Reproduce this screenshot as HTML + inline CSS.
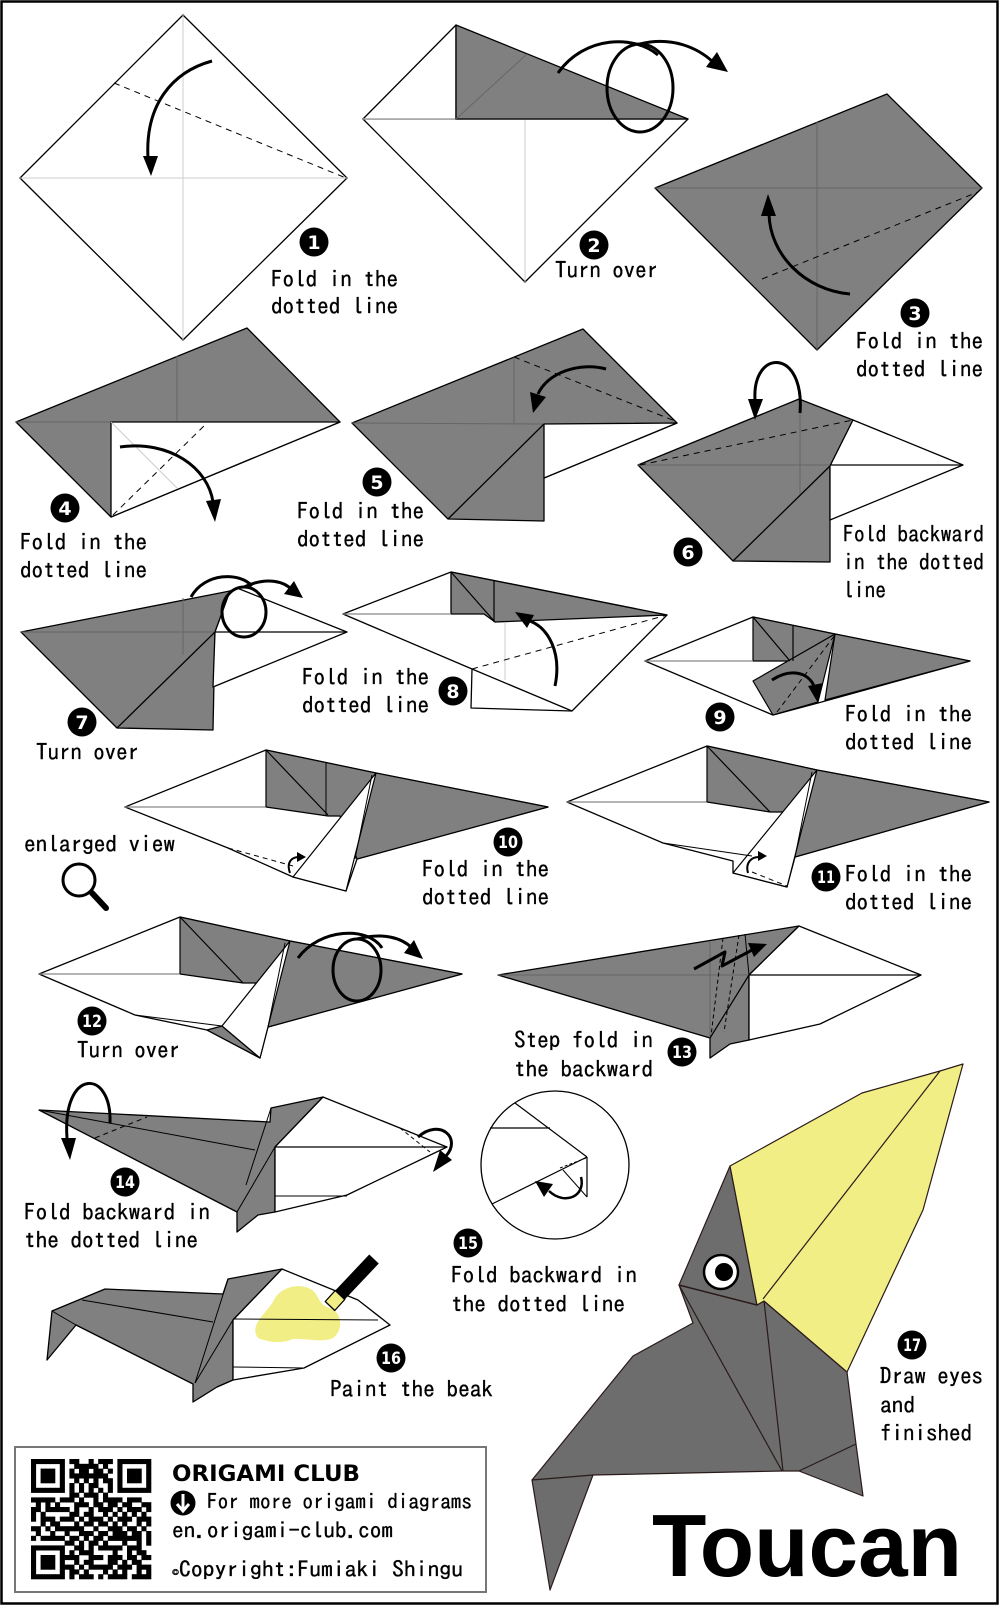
<!DOCTYPE html>
<html><head><meta charset="utf-8"><style>
html,body{margin:0;padding:0;background:#fff;}
svg{display:block;}
.t{font-family:"IPAGothic","Liberation Mono",monospace;font-size:23px;fill:#000;stroke:#000;stroke-width:0.35px;}
.n{font-family:"DejaVu Sans","Liberation Sans",sans-serif;font-weight:bold;fill:#fff;}
</style></head><body>
<svg width="1000" height="1606" viewBox="0 0 1000 1606" xmlns="http://www.w3.org/2000/svg">
<rect x="0" y="0" width="1000" height="1606" fill="#fff"/>
<rect x="1.5" y="1.5" width="996" height="1602" fill="none" stroke="#000" stroke-width="2.5"/>

<!-- STEP 1 -->
<g stroke-linejoin="round">
<polygon points="183,15 347,178 183,340 20,178" fill="#fff" stroke="#000" stroke-width="1.3"/>
<line x1="20" y1="178" x2="347" y2="178" stroke="#ccc"/>
<line x1="183" y1="15" x2="183" y2="340" stroke="#ccc"/>
<line x1="114" y1="83" x2="346" y2="178" stroke="#000" stroke-dasharray="6,5"/>
<path d="M212,61 C172,72 145,105 148,158" fill="none" stroke="#000" stroke-width="3"/>
<polygon points="143,156 158,156 151,176" fill="#000"/>
</g>
<circle cx="314" cy="242" r="14.5" fill="#000"/><text class="n" x="314" y="249" font-size="19" text-anchor="middle">1</text>
<text class="t" x="271" y="287" textLength="127" lengthAdjust="spacingAndGlyphs">Fold in the</text>
<text class="t" x="271" y="314" textLength="127" lengthAdjust="spacingAndGlyphs">dotted line</text>

<!-- STEP 2 -->
<g stroke-linejoin="round">
<polygon points="363,119 525,282 688,119" fill="#fff" stroke="#000" stroke-width="1.3"/>
<polygon points="363,119 456,25 456,119" fill="#fff" stroke="#000" stroke-width="1.3"/>
<line x1="363" y1="119" x2="456" y2="119" stroke="#bbb" stroke-width="1.2"/>
<line x1="525" y1="119" x2="525" y2="282" stroke="#ccc"/>
<polygon points="456,25 688,119 456,119" fill="#808080" stroke="#000" stroke-width="1.3"/>
<line x1="456" y1="119" x2="527" y2="54" stroke="#666"/>
<path d="M558,73 C585,35 635,35 658,55" fill="none" stroke="#000" stroke-width="3"/>
<ellipse cx="640" cy="88" rx="33" ry="44" fill="none" stroke="#000" stroke-width="3"/>
<path d="M640,44 C672,36 698,48 713,62" fill="none" stroke="#000" stroke-width="3"/>
<polygon points="728,72 706,67 717,52" fill="#000"/>
</g>
<circle cx="594" cy="245" r="14.5" fill="#000"/><text class="n" x="594" y="252" font-size="19" text-anchor="middle">2</text>
<text class="t" x="555" y="278" textLength="103" lengthAdjust="spacingAndGlyphs">Turn over</text>

<!-- STEP 3 -->
<g stroke-linejoin="round">
<polygon points="655,188 887,94 982,188 817,350" fill="#808080" stroke="#000" stroke-width="1.3"/>
<line x1="817" y1="122" x2="817" y2="350" stroke="#666"/>
<line x1="655" y1="188" x2="982" y2="188" stroke="#666"/>
<line x1="762" y1="279" x2="978" y2="192" stroke="#000" stroke-dasharray="6,5"/>
<path d="M850,294 C805,290 770,255 769,214" fill="none" stroke="#000" stroke-width="3"/>
<polygon points="768,194 761,216 776,216" fill="#000"/>
</g>
<circle cx="915" cy="313" r="14.5" fill="#000"/><text class="n" x="915" y="320" font-size="19" text-anchor="middle">3</text>
<text class="t" x="856" y="349" textLength="127" lengthAdjust="spacingAndGlyphs">Fold in the</text>
<text class="t" x="856" y="377" textLength="127" lengthAdjust="spacingAndGlyphs">dotted line</text>

<!-- STEP 4 -->
<g stroke-linejoin="round">
<polygon points="16,422 247,328 340,422 111,517" fill="#808080" stroke="#000" stroke-width="1.3"/>
<line x1="177" y1="356" x2="177" y2="422" stroke="#666"/>
<line x1="16" y1="422" x2="111" y2="422" stroke="#666"/>
<polygon points="111,422 340,422 111,517" fill="#fff" stroke="#000" stroke-width="1.3"/>
<line x1="111" y1="422" x2="177" y2="488" stroke="#ccc"/>
<line x1="113" y1="515" x2="207" y2="423" stroke="#000" stroke-dasharray="6,5"/>
<path d="M120,447 C170,440 208,468 213,502" fill="none" stroke="#000" stroke-width="3"/>
<polygon points="215,522 206,501 221,499" fill="#000"/>
</g>
<circle cx="65" cy="508" r="14.5" fill="#000"/><text class="n" x="65" y="515" font-size="19" text-anchor="middle">4</text>
<text class="t" x="20" y="550" textLength="127" lengthAdjust="spacingAndGlyphs">Fold in the</text>
<text class="t" x="20" y="578" textLength="127" lengthAdjust="spacingAndGlyphs">dotted line</text>

<!-- STEP 5 -->
<g stroke-linejoin="round">
<polygon points="352,423 583,329 677,423 544,478 544,521 448,519" fill="#808080" stroke="#000" stroke-width="1.3"/>
<polygon points="544,424 677,423 544,478" fill="#fff" stroke="#000" stroke-width="1.3"/>
<line x1="352" y1="423" x2="544" y2="424" stroke="#666"/>
<line x1="514" y1="357" x2="514" y2="423" stroke="#666"/>
<line x1="448" y1="519" x2="544" y2="424" stroke="#000" stroke-width="1.3"/>
<line x1="514" y1="357" x2="675" y2="421" stroke="#000" stroke-dasharray="6,5"/>
<path d="M606,369 C580,362 548,372 538,394" fill="none" stroke="#000" stroke-width="3"/>
<polygon points="533,413 530,392 546,397" fill="#000"/>
</g>
<circle cx="377" cy="482" r="14.5" fill="#000"/><text class="n" x="377" y="489" font-size="19" text-anchor="middle">5</text>
<text class="t" x="297" y="519" textLength="127" lengthAdjust="spacingAndGlyphs">Fold in the</text>
<text class="t" x="297" y="547" textLength="127" lengthAdjust="spacingAndGlyphs">dotted line</text>

<!-- STEP 6 -->
<g stroke-linejoin="round">
<polygon points="638,465 799,399 853,420 830,466 830,562 733,561" fill="#808080" stroke="#000" stroke-width="1.3"/>
<polygon points="853,420 963,465 830,520 830,466" fill="#fff" stroke="#000" stroke-width="1.3"/>
<line x1="830" y1="465" x2="963" y2="465" stroke="#000" stroke-width="1.2"/>
<line x1="638" y1="465" x2="830" y2="465" stroke="#666"/>
<line x1="800" y1="400" x2="800" y2="495" stroke="#666"/>
<line x1="733" y1="561" x2="830" y2="466" stroke="#000" stroke-width="1.3"/>
<line x1="640" y1="465" x2="853" y2="420" stroke="#000" stroke-dasharray="6,5"/>
<path d="M800,413 C805,348 752,348 755,400" fill="none" stroke="#000" stroke-width="3"/>
<polygon points="755,420 748,399 763,399" fill="#000"/>
</g>
<circle cx="688" cy="552" r="14.5" fill="#000"/><text class="n" x="688" y="559" font-size="19" text-anchor="middle">6</text>
<text class="t" x="843" y="542" textLength="141" lengthAdjust="spacingAndGlyphs">Fold backward</text>
<text class="t" x="843" y="570" textLength="141" lengthAdjust="spacingAndGlyphs">in the dotted</text>
<text class="t" x="843" y="598" textLength="43" lengthAdjust="spacingAndGlyphs">line</text>

<!-- STEP 7 -->
<g stroke-linejoin="round">
<polygon points="21,632 230,591 215,632 213,730 117,728" fill="#808080" stroke="#000" stroke-width="1.3"/>
<polygon points="230,591 237,588 347,632 213,687 215,632" fill="#fff" stroke="#000" stroke-width="1.3"/>
<line x1="215" y1="632" x2="347" y2="632" stroke="#000" stroke-width="1.2"/>
<line x1="21" y1="632" x2="215" y2="632" stroke="#666"/>
<line x1="183" y1="598" x2="183" y2="655" stroke="#666"/>
<line x1="117" y1="728" x2="215" y2="632" stroke="#000" stroke-width="1.3"/>
<path d="M191,597 C205,572 240,572 252,586" fill="none" stroke="#000" stroke-width="3"/>
<ellipse cx="244" cy="612" rx="22" ry="25" fill="none" stroke="#000" stroke-width="3"/>
<path d="M244,587 C268,576 285,582 292,590" fill="none" stroke="#000" stroke-width="3"/>
<polygon points="303,598 284,594 294,581" fill="#000"/>
</g>
<circle cx="82" cy="722" r="14.5" fill="#000"/><text class="n" x="82" y="729" font-size="19" text-anchor="middle">7</text>
<text class="t" x="36" y="760" textLength="103" lengthAdjust="spacingAndGlyphs">Turn over</text>

<!-- STEP 8 -->
<g stroke-linejoin="round">
<polygon points="343,614 451,572 667,615 572,711 471,708 472,669" fill="#fff" stroke="#000" stroke-width="1.3"/>
<line x1="472" y1="669" x2="572" y2="711" stroke="#000" stroke-width="1.3"/>
<polygon points="451,572 667,615 495,622 484,614 451,614" fill="#808080" stroke="#000" stroke-width="1.3"/>
<line x1="343" y1="614" x2="451" y2="614" stroke="#888" stroke-width="1.2"/>
<line x1="451" y1="572" x2="495" y2="622" stroke="#000" stroke-width="1.2"/>
<line x1="494" y1="580" x2="494" y2="622" stroke="#000" stroke-width="1.2"/>
<line x1="505" y1="622" x2="505" y2="680" stroke="#ccc"/>
<line x1="472" y1="669" x2="667" y2="615" stroke="#000" stroke-dasharray="6,5"/>
<path d="M555,686 C562,652 548,628 530,621" fill="none" stroke="#000" stroke-width="3"/>
<polygon points="515,612 534,615 527,628" fill="#000"/>
</g>
<circle cx="453" cy="691" r="14.5" fill="#000"/><text class="n" x="453" y="698" font-size="19" text-anchor="middle">8</text>
<text class="t" x="302" y="685" textLength="127" lengthAdjust="spacingAndGlyphs">Fold in the</text>
<text class="t" x="302" y="713" textLength="127" lengthAdjust="spacingAndGlyphs">dotted line</text>

<!-- STEP 9 -->
<g stroke-linejoin="round">
<polygon points="645,661 753,617 835,634 970,661 818,703 773,715" fill="#fff" stroke="#000" stroke-width="1.3"/>
<polygon points="753,617 835,634 790,661 753,661" fill="#808080" stroke="#000" stroke-width="1.2"/>
<polygon points="835,634 970,661 825,700" fill="#808080" stroke="#000" stroke-width="1.2"/>
<polygon points="753,681 835,634 818,702 773,715" fill="#808080" stroke="#000" stroke-width="1.2"/>
<line x1="645" y1="661" x2="753" y2="661" stroke="#888" stroke-width="1.2"/>
<line x1="753" y1="617" x2="790" y2="661" stroke="#000" stroke-width="1.2"/>
<line x1="793" y1="626" x2="793" y2="661" stroke="#000" stroke-width="1.2"/>
<line x1="777" y1="712" x2="835" y2="635" stroke="#000" stroke-dasharray="5,4"/>
<path d="M772,680 C790,668 808,672 814,686" fill="none" stroke="#000" stroke-width="3"/>
<polygon points="818,703 808,686 823,683" fill="#000"/>
</g>
<circle cx="720" cy="717" r="14.5" fill="#000"/><text class="n" x="720" y="724" font-size="19" text-anchor="middle">9</text>
<text class="t" x="845" y="722" textLength="127" lengthAdjust="spacingAndGlyphs">Fold in the</text>
<text class="t" x="845" y="750" textLength="127" lengthAdjust="spacingAndGlyphs">dotted line</text>

<!-- STEP 10 -->
<g stroke-linejoin="round">
<polygon points="125,807 266,750 376,773 548,807 357,859 346,891 293,877 228,848" fill="#fff" stroke="#000" stroke-width="1.3"/>
<polygon points="266,750 376,773 548,807 357,859 340,816 328,816 266,807" fill="#808080" stroke="#000" stroke-width="1.2"/>
<polygon points="376,773 293,877 346,891" fill="#fff" stroke="#000" stroke-width="1.2"/>
<line x1="125" y1="807" x2="266" y2="807" stroke="#888" stroke-width="1.2"/>
<line x1="266" y1="750" x2="266" y2="807" stroke="#000"/>
<line x1="266" y1="750" x2="328" y2="815" stroke="#000" stroke-width="1.2"/>
<line x1="326" y1="763" x2="326" y2="815" stroke="#000"/>
<line x1="372" y1="775" x2="355" y2="859" stroke="#000"/>
<line x1="228" y1="848" x2="293" y2="866" stroke="#000" stroke-dasharray="5,4"/>
<path d="M290,873 C286,862 292,857 299,857" fill="none" stroke="#000" stroke-width="2"/>
<polygon points="306,857 297,852 297,862" fill="#000"/>
</g>
<circle cx="508" cy="842" r="14.5" fill="#000"/><text class="n" x="508" y="848" font-size="17" text-anchor="middle" textLength="20" lengthAdjust="spacingAndGlyphs">10</text>
<text class="t" x="422" y="877" textLength="127" lengthAdjust="spacingAndGlyphs">Fold in the</text>
<text class="t" x="422" y="905" textLength="127" lengthAdjust="spacingAndGlyphs">dotted line</text>
<text class="t" x="24" y="852" textLength="151" lengthAdjust="spacingAndGlyphs">enlarged view</text>
<circle cx="79" cy="880" r="16" fill="none" stroke="#000" stroke-width="3"/>
<line x1="92" y1="893" x2="106" y2="908" stroke="#000" stroke-width="6" stroke-linecap="round"/>

<!-- STEP 11 -->
<g stroke-linejoin="round">
<polygon points="567,802 707,746 817,770 989,802 795,857 787,887 733,873 733,861 663,843" fill="#fff" stroke="#000" stroke-width="1.3"/>
<polygon points="707,746 817,770 989,802 795,857 783,812 770,812 707,802" fill="#808080" stroke="#000" stroke-width="1.2"/>
<polygon points="817,770 733,873 787,887" fill="#fff" stroke="#000" stroke-width="1.2"/>
<line x1="567" y1="802" x2="707" y2="802" stroke="#888" stroke-width="1.2"/>
<line x1="707" y1="746" x2="707" y2="802" stroke="#000"/>
<line x1="707" y1="746" x2="770" y2="812" stroke="#000" stroke-width="1.2"/>
<line x1="663" y1="843" x2="752" y2="856" stroke="#000"/>
<line x1="812" y1="772" x2="795" y2="857" stroke="#000"/>
<line x1="752" y1="872" x2="787" y2="886" stroke="#000" stroke-dasharray="5,4"/>
<path d="M748,873 C745,862 752,857 759,857" fill="none" stroke="#000" stroke-width="2"/>
<polygon points="767,856 758,851 758,861" fill="#000"/>
</g>
<circle cx="826" cy="877" r="14.5" fill="#000"/><text class="n" x="826" y="883" font-size="17" text-anchor="middle" textLength="18" lengthAdjust="spacingAndGlyphs">11</text>
<text class="t" x="845" y="882" textLength="127" lengthAdjust="spacingAndGlyphs">Fold in the</text>
<text class="t" x="845" y="910" textLength="127" lengthAdjust="spacingAndGlyphs">dotted line</text>

<!-- STEP 12 -->
<g stroke-linejoin="round">
<polygon points="39,974 180,917 290,941 462,974 268,1027 260,1058 207,1030 135,1015" fill="#fff" stroke="#000" stroke-width="1.3"/>
<polygon points="180,917 290,941 462,974 268,1027 258,983 243,983 180,974" fill="#808080" stroke="#000" stroke-width="1.2"/>
<polygon points="207,1030 222,1026 260,1058" fill="#808080" stroke="#000" stroke-width="1.2"/>
<polygon points="290,941 222,1026 260,1058" fill="#fff" stroke="#000" stroke-width="1.2"/>
<line x1="39" y1="974" x2="180" y2="974" stroke="#888" stroke-width="1.2"/>
<line x1="180" y1="917" x2="180" y2="974" stroke="#000"/>
<line x1="180" y1="917" x2="243" y2="983" stroke="#000" stroke-width="1.2"/>
<line x1="135" y1="1015" x2="222" y2="1026" stroke="#000"/>
<line x1="285" y1="943" x2="268" y2="1027" stroke="#000"/>
<path d="M298,958 C320,928 368,926 382,948" fill="none" stroke="#000" stroke-width="3"/>
<ellipse cx="357" cy="970" rx="24" ry="31" fill="none" stroke="#000" stroke-width="3"/>
<path d="M357,939 C383,932 402,938 412,948" fill="none" stroke="#000" stroke-width="3"/>
<polygon points="423,959 404,953 414,940" fill="#000"/>
</g>
<circle cx="92" cy="1021" r="14.5" fill="#000"/><text class="n" x="92" y="1027" font-size="17" text-anchor="middle" textLength="20" lengthAdjust="spacingAndGlyphs">12</text>
<text class="t" x="77" y="1058" textLength="103" lengthAdjust="spacingAndGlyphs">Turn over</text>

<!-- STEP 13 -->
<g stroke-linejoin="round">
<polygon points="498,975 799,926 749,975 749,1040 730,1044 710,1058 710,1038" fill="#808080" stroke="#000" stroke-width="1.3"/>
<polygon points="799,926 921,975 820,1024 749,1040 749,975" fill="#fff" stroke="#000" stroke-width="1.3"/>
<line x1="498" y1="975" x2="749" y2="975" stroke="#666"/>
<line x1="749" y1="975" x2="921" y2="975" stroke="#000" stroke-width="1.2"/>
<line x1="710" y1="942" x2="710" y2="1038" stroke="#666"/>
<line x1="710" y1="1038" x2="749" y2="975" stroke="#000" stroke-width="1.2"/>
<line x1="745" y1="934" x2="749" y2="975" stroke="#000"/>
<line x1="723" y1="938" x2="711" y2="1036" stroke="#000" stroke-dasharray="4,3"/>
<line x1="739" y1="935" x2="724" y2="1032" stroke="#000" stroke-dasharray="4,3"/>
<polyline points="694,969 725,952 722,966 752,950" fill="none" stroke="#000" stroke-width="3"/>
<polygon points="767,944 748,943 754,957" fill="#000"/>
</g>
<circle cx="682" cy="1052" r="14.5" fill="#000"/><text class="n" x="682" y="1058" font-size="17" text-anchor="middle" textLength="20" lengthAdjust="spacingAndGlyphs">13</text>
<text class="t" x="514" y="1048" textLength="139" lengthAdjust="spacingAndGlyphs">Step fold in</text>
<text class="t" x="514" y="1077" textLength="139" lengthAdjust="spacingAndGlyphs">the backward</text>

<!-- STEP 14 -->
<g stroke-linejoin="round">
<polygon points="39,1110 270,1122 271,1108 323,1097 275,1147 275,1212 258,1215 237,1232 237,1212" fill="#808080" stroke="#000" stroke-width="1.3"/>
<polygon points="323,1097 447,1147 347,1195 275,1212 275,1147" fill="#fff" stroke="#000" stroke-width="1.3"/>
<line x1="275" y1="1147" x2="447" y2="1147" stroke="#000" stroke-width="1.2"/>
<line x1="275" y1="1196" x2="347" y2="1196" stroke="#000"/>
<line x1="39" y1="1110" x2="255" y2="1150" stroke="#000"/>
<line x1="237" y1="1212" x2="275" y2="1147" stroke="#000"/>
<line x1="271" y1="1108" x2="246" y2="1185" stroke="#000"/>
<line x1="95" y1="1138" x2="147" y2="1117" stroke="#000" stroke-dasharray="5,4"/>
<line x1="400" y1="1128" x2="430" y2="1152" stroke="#000" stroke-dasharray="4,3"/>
<path d="M110,1123 C112,1068 62,1068 67,1138" fill="none" stroke="#000" stroke-width="3"/>
<polygon points="70,1160 61,1138 76,1138" fill="#000"/>
<path d="M418,1137 C440,1118 462,1138 446,1156" fill="none" stroke="#000" stroke-width="3"/>
<polygon points="433,1172 440,1150 452,1160" fill="#000"/>
</g>
<circle cx="125" cy="1182" r="14.5" fill="#000"/><text class="n" x="125" y="1188" font-size="17" text-anchor="middle" textLength="20" lengthAdjust="spacingAndGlyphs">14</text>
<text class="t" x="24" y="1220" textLength="186" lengthAdjust="spacingAndGlyphs">Fold backward in</text>
<text class="t" x="24" y="1248" textLength="174" lengthAdjust="spacingAndGlyphs">the dotted line</text>

<!-- STEP 15 -->
<g stroke-linejoin="round">
<circle cx="555" cy="1165" r="74" fill="#fff" stroke="#000" stroke-width="1.3"/>
<line x1="490" y1="1128" x2="550" y2="1128" stroke="#000" stroke-width="1.2"/>
<line x1="515" y1="1103" x2="587" y2="1157" stroke="#000" stroke-width="1.2"/>
<line x1="587" y1="1157" x2="587" y2="1197" stroke="#000" stroke-width="1.2"/>
<line x1="492" y1="1204" x2="587" y2="1157" stroke="#000" stroke-width="1.2"/>
<line x1="563" y1="1170" x2="587" y2="1197" stroke="#000"/>
<line x1="560" y1="1168" x2="586" y2="1158" stroke="#000" stroke-dasharray="3,2"/>
<path d="M581,1177 C586,1196 565,1206 549,1191" fill="none" stroke="#000" stroke-width="2.5"/>
<polygon points="535,1181 553,1184 544,1197" fill="#000"/>
</g>
<circle cx="468" cy="1243" r="14.5" fill="#000"/><text class="n" x="468" y="1249" font-size="17" text-anchor="middle" textLength="20" lengthAdjust="spacingAndGlyphs">15</text>
<text class="t" x="451" y="1283" textLength="186" lengthAdjust="spacingAndGlyphs">Fold backward in</text>
<text class="t" x="451" y="1312" textLength="174" lengthAdjust="spacingAndGlyphs">the dotted line</text>

<!-- STEP 16 -->
<g stroke-linejoin="round">
<polygon points="52,1311 105,1289 223,1294 228,1279 282,1269 233,1320 233,1380 217,1387 193,1402 193,1384 76,1325 47,1360" fill="#808080" stroke="#000" stroke-width="1.3"/>
<polygon points="282,1269 358,1300 390,1325 304,1368 233,1380 233,1320" fill="#fff" stroke="#000" stroke-width="1.3"/>
<path d="M258,1338 C248,1325 268,1312 274,1300 C280,1287 300,1282 312,1290 C320,1296 318,1305 330,1308 C342,1312 344,1330 333,1338 C320,1344 300,1336 290,1340 C280,1344 268,1342 258,1338 Z" fill="#f2ee86"/>
<line x1="233" y1="1319" x2="378" y2="1320" stroke="#000"/>
<line x1="233" y1="1367" x2="304" y2="1368" stroke="#000"/>
<line x1="82" y1="1300" x2="213" y2="1322" stroke="#000"/>
<line x1="52" y1="1311" x2="76" y2="1325" stroke="#000"/>
<line x1="195" y1="1383" x2="228" y2="1279" stroke="#000"/>
<line x1="195" y1="1383" x2="233" y2="1320" stroke="#000"/>
<line x1="217" y1="1387" x2="233" y2="1380" stroke="#000"/>
<polygon points="378.75,1263.5 369.25,1254.5 335.25,1290.5 344.75,1299.5" fill="#000"/>
<polygon points="344.75,1299.5 335.25,1290.5 325.25,1301.5 334.75,1310.5" fill="#f2ee86" stroke="#000" stroke-width="1.3"/>
</g>
<circle cx="391" cy="1358" r="14.5" fill="#000"/><text class="n" x="391" y="1364" font-size="17" text-anchor="middle" textLength="20" lengthAdjust="spacingAndGlyphs">16</text>
<text class="t" x="330" y="1397" textLength="163" lengthAdjust="spacingAndGlyphs">Paint the beak</text>

<!-- STEP 17 TOUCAN -->
<g stroke-linejoin="round" stroke="#2a1a1a" stroke-width="1.2">
<polygon points="679,1285 693,1323 633,1356 532,1480 550,1590 593,1475 782,1471 799,1471 863,1496 856,1444 847,1372 764,1301 757,1305" fill="#6d6d6d"/>
<polygon points="730,1166 679,1285 757,1305" fill="#6d6d6d"/>
<polygon points="730,1166 862,1093 940,1071 963,1064 923,1210 847,1372 764,1301 757,1305" fill="#f2ee86"/>
<line x1="940" y1="1071" x2="763" y2="1299"/>
<line x1="679" y1="1285" x2="757" y2="1305"/>
<line x1="679" y1="1285" x2="782" y2="1471"/>
<line x1="764" y1="1301" x2="783" y2="1471"/>
<line x1="532" y1="1480" x2="593" y2="1475"/>
<line x1="799" y1="1471" x2="856" y2="1444"/>
</g>
<circle cx="721" cy="1272" r="17" fill="#fff" stroke="#000" stroke-width="2.5"/>
<circle cx="724" cy="1272" r="9" fill="#000"/>
<circle cx="912" cy="1345" r="14.5" fill="#000"/><text class="n" x="912" y="1351" font-size="17" text-anchor="middle" textLength="18" lengthAdjust="spacingAndGlyphs">17</text>
<text class="t" x="880" y="1384" textLength="103" lengthAdjust="spacingAndGlyphs">Draw eyes</text>
<text class="t" x="880" y="1413" textLength="35" lengthAdjust="spacingAndGlyphs">and</text>
<text class="t" x="880" y="1441" textLength="92" lengthAdjust="spacingAndGlyphs">finished</text>
<text x="652" y="1576" font-family="Liberation Sans, Arial, sans-serif" font-weight="bold" font-size="88" textLength="310" lengthAdjust="spacingAndGlyphs" fill="#000">Toucan</text>

<!-- FOOTER -->
<rect x="15" y="1447" width="471" height="145" fill="#fff" stroke="#777" stroke-width="2"/>
<g id="qr" fill="#000"></g>
<text x="172" y="1481" font-family="DejaVu Sans, Liberation Sans, sans-serif" font-weight="bold" font-size="22" textLength="188" lengthAdjust="spacingAndGlyphs">ORIGAMI CLUB</text>
<circle cx="183" cy="1503" r="12.5" fill="#000"/>
<line x1="183" y1="1494" x2="183" y2="1510" stroke="#fff" stroke-width="3"/>
<polyline points="177,1504 183,1511 189,1504" fill="none" stroke="#fff" stroke-width="3"/>
<text class="t" x="207" y="1509" style="font-size:21px" textLength="265" lengthAdjust="spacingAndGlyphs">For more origami diagrams</text>
<text class="t" x="172" y="1538" style="font-size:22px" textLength="221" lengthAdjust="spacingAndGlyphs">en.origami-club.com</text>
<text class="t" x="172" y="1577" style="font-size:22px" textLength="291" lengthAdjust="spacingAndGlyphs"><tspan style="font-size:13px">©</tspan>Copyright:Fumiaki Shingu</text>
</svg>
<script>
(function(){
var rows=[
"1111111011001011101111111",
"1000001001111101001000001",
"1011101010110110101011101",
"1011101011111111001011101",
"1011101001010101101011101",
"1000001010101100101000001",
"1111111010101010101111111",
"0000000011011101000000000",
"1111101110100101111011100",
"0101010001110110110110011",
"1101111101001011101011101",
"1010000011011001010101010",
"1011101110101110101110111",
"0010110001011011010100101",
"1101011111100100111011010",
"0100100100111011011101101",
"1011111011010110111111101",
"0000000110101101000100101",
"1111111001101011111011100",
"1000001010111000010010110",
"1011101111001110111011011",
"1011101001011000110101100",
"1011101110101111101110111",
"1000001011010001010100101",
"1111111010111010111101111"];
var g=document.getElementById('qr'),ns='http://www.w3.org/2000/svg',s=4.8,x0=31,y0=1459;
for(var r=0;r<rows.length;r++){for(var c=0;c<rows[r].length;c++){if(rows[r][c]==='1'){var e=document.createElementNS(ns,'rect');e.setAttribute('x',(x0+c*s).toFixed(2));e.setAttribute('y',(y0+r*s).toFixed(2));e.setAttribute('width',(s+0.3).toFixed(2));e.setAttribute('height',(s+0.3).toFixed(2));g.appendChild(e);}}}
})();
</script>
</body></html>
